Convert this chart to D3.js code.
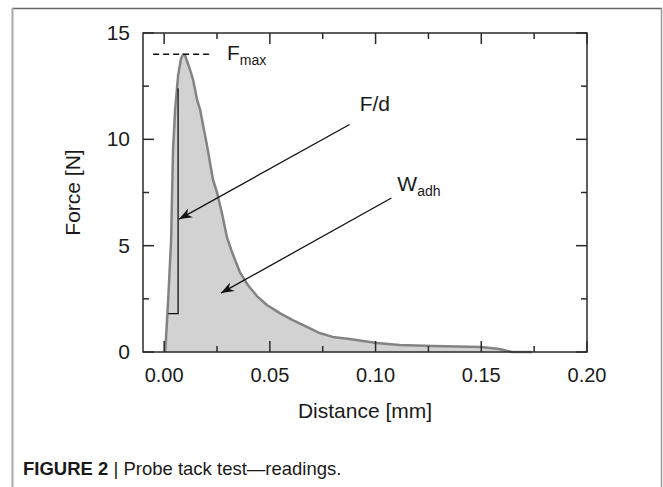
<!DOCTYPE html>
<html>
<head>
<meta charset="UTF-8">
<title>Probe tack test</title>
<script src="https://d3js.org/d3.v7.min.js"></script>
<style>
  body {margin:0; background:#fff;}
  text {font-family: "Liberation Sans", Arial, sans-serif; fill:#1a1a1a;}
</style>
</head>
<body>
<div id="chart"></div>
<script>
// distance [mm] and force [N]
var distance = [0.0005, 0.0019, 0.0033, 0.0042, 0.0052, 0.0066, 0.0080, 0.0090, 0.0099, 0.0123, 0.0137,
                0.0156, 0.0170, 0.0203, 0.0231, 0.0250, 0.0274, 0.0297, 0.0321, 0.0358, 0.0396, 0.0439,
                0.0486, 0.0547, 0.0608, 0.0675, 0.0736, 0.0797, 0.0877, 0.1005, 0.1113, 0.1269, 0.1500,
                0.1585, 0.1646, 0.1740];
var force    = [0, 2.44, 5.27, 9.5, 11.4, 13.0, 13.8, 14.0, 13.95, 13.26, 12.8,
                11.85, 11.4, 9.7, 8.1, 7.5, 6.5, 5.4, 4.7, 3.76, 3.15, 2.63,
                2.21, 1.83, 1.50, 1.18, 0.89, 0.71, 0.61, 0.42, 0.33, 0.28, 0.24,
                0.14, 0, 0];

var xMajor = [0, 0.05, 0.10, 0.15, 0.20];
var xMinor = [0.025, 0.075, 0.125, 0.175];
var yMajor = [0, 5, 10, 15];
var yMinor = [2.5, 7.5, 12.5];

var W = 663, H = 487;
var pL = 143, pR = 587, pT = 33, pB = 352;

var x = d3.scaleLinear().domain([-0.01, 0.20]).range([pL, pR]);
var y = d3.scaleLinear().domain([0, 15]).range([pB, pT]);

var svg = d3.select("#chart").append("svg")
    .attr("width", W).attr("height", H);

// page frame
svg.append("line").attr("x1", 12).attr("x2", 662).attr("y1", 8.5).attr("y2", 8.5)
    .attr("stroke", "#666").attr("stroke-width", 1.5);
svg.append("line").attr("x1", 12.5).attr("x2", 12.5).attr("y1", 8).attr("y2", H)
    .attr("stroke", "#aaa").attr("stroke-width", 2);
svg.append("line").attr("x1", 661.5).attr("x2", 661.5).attr("y1", 8).attr("y2", H)
    .attr("stroke", "#999").attr("stroke-width", 1.5);

svg.append("defs").append("marker")
    .attr("id", "arr")
    .attr("viewBox", "-14 -6 16 12")
    .attr("markerWidth", 16).attr("markerHeight", 12)
    .attr("markerUnits", "userSpaceOnUse")
    .attr("refX", 0).attr("refY", 0)
    .attr("orient", "auto")
    .append("path")
    .attr("d", "M0,0 L-13,-5 L-9,0 L-13,5 Z")
    .attr("fill", "#111");

var pts = distance.map(function(d, i) { return [d, force[i]]; });

var area = d3.area()
    .x(function(d) { return x(d[0]); })
    .y0(y(0))
    .y1(function(d) { return y(d[1]); });
var line = d3.line()
    .x(function(d) { return x(d[0]); })
    .y(function(d) { return y(d[1]); });

svg.append("path").datum(pts).attr("d", area).attr("fill", "#d2d2d2");
svg.append("path").datum(pts).attr("d", line)
    .attr("fill", "none").attr("stroke", "#838383").attr("stroke-width", 2.5)
    .attr("stroke-linejoin", "round");

// frame + inward ticks
var g = svg.append("g");
g.append("rect").attr("x", pL).attr("y", pT).attr("width", pR - pL).attr("height", pB - pT)
    .attr("fill", "none").attr("stroke", "#2a2a2a").attr("stroke-width", 1.5);

function ticks(vals, len) {
  vals.forEach(function(v) {
    g.append("line").attr("x1", x(v)).attr("x2", x(v)).attr("y1", pB).attr("y2", pB - len);
    g.append("line").attr("x1", x(v)).attr("x2", x(v)).attr("y1", pT).attr("y2", pT + len);
  });
}
function yticks(vals, len) {
  vals.forEach(function(v) {
    g.append("line").attr("y1", y(v)).attr("y2", y(v)).attr("x1", pL).attr("x2", pL + len);
    g.append("line").attr("y1", y(v)).attr("y2", y(v)).attr("x1", pR).attr("x2", pR - len);
  });
}
ticks(xMajor, 11); ticks(xMinor, 6);
yticks(yMajor, 11); yticks(yMinor, 6);
g.selectAll("line").attr("stroke", "#2a2a2a").attr("stroke-width", 1.5);

svg.selectAll(".xl").data(xMajor).enter().append("text")
    .attr("x", function(d) { return x(d); }).attr("y", 382)
    .attr("text-anchor", "middle").attr("font-size", 20)
    .text(function(d) { return d3.format(".2f")(d); });
svg.selectAll(".yl").data(yMajor).enter().append("text")
    .attr("x", 130).attr("y", function(d) { return y(d) + 7; })
    .attr("text-anchor", "end").attr("font-size", 21)
    .text(function(d) { return d; });

svg.append("text").attr("x", (pL + pR) / 2).attr("y", 418)
    .attr("text-anchor", "middle").attr("font-size", 21).text("Distance [mm]");
svg.append("text").attr("transform", "translate(80," + ((pT + pB) / 2) + ") rotate(-90)")
    .attr("text-anchor", "middle").attr("font-size", 21).text("Force [N]");

// annotations
svg.append("line").attr("x1", x(-0.0052)).attr("x2", x(0.0226)).attr("y1", y(14)).attr("y2", y(14))
    .attr("stroke", "#111").attr("stroke-width", 1.3).attr("stroke-dasharray", "6,4");
var fm = svg.append("text").attr("x", x(0.0297)).attr("y", y(14) + 6).attr("font-size", 21);
fm.append("tspan").text("F");
fm.append("tspan").attr("font-size", 14).attr("dy", 5).text("max");

svg.append("path")
    .attr("d", line([[0.0066, 12.4], [0.0066, 1.8], [0.0019, 1.8]]))
    .attr("fill", "none").attr("stroke", "#111").attr("stroke-width", 1.3);

svg.append("line").attr("x1", x(0.0877)).attr("y1", y(10.7)).attr("x2", x(0.0071)).attr("y2", y(6.25))
    .attr("stroke", "#111").attr("stroke-width", 1.3).attr("marker-end", "url(#arr)");
svg.append("text").attr("x", x(0.0925)).attr("y", y(10.7) - 13).attr("font-size", 21).text("F/d");

svg.append("line").attr("x1", x(0.1075)).attr("y1", y(7.24)).attr("x2", x(0.0269)).attr("y2", y(2.77))
    .attr("stroke", "#111").attr("stroke-width", 1.3).attr("marker-end", "url(#arr)");
var wa = svg.append("text").attr("x", x(0.1103)).attr("y", y(7.24) - 7).attr("font-size", 21);
wa.append("tspan").text("W");
wa.append("tspan").attr("font-size", 14).attr("dy", 5).text("adh");

var cap = svg.append("text").attr("x", 23).attr("y", 475).attr("font-size", 18.5);
cap.append("tspan").attr("font-weight", "bold").text("FIGURE 2");
cap.append("tspan").text(" | Probe tack test\u2014readings.");
</script>
</body>
</html>
